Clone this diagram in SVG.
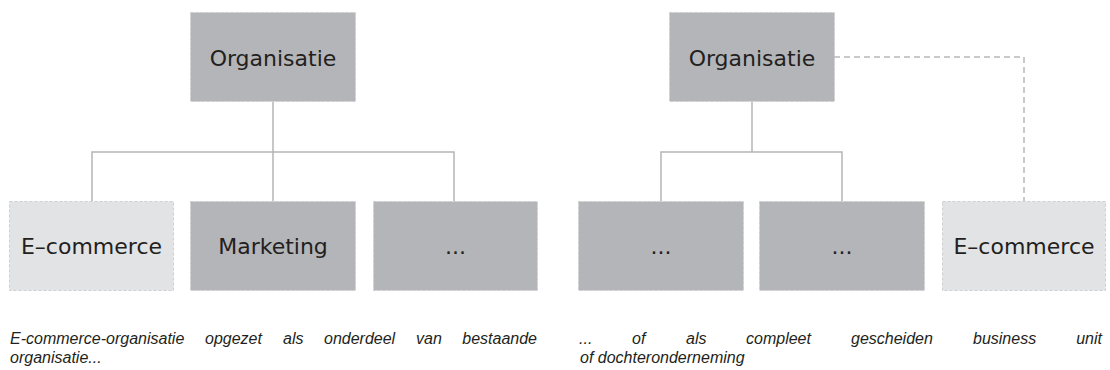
<svg xmlns="http://www.w3.org/2000/svg" width="1110" height="370" viewBox="0 0 1110 370">
<style>
.box{stroke:#cfcfd1;stroke-width:1;stroke-dasharray:3 2}
.dark{fill:#b4b5b8}
.light{fill:#e2e3e5}
.lbl{font-family:"DejaVu Sans",sans-serif;font-size:22px;fill:#231f20;text-anchor:middle}
.cap{font-family:"Liberation Sans",Arial,sans-serif;font-style:italic;font-size:16px;fill:#231f20}
.ln{fill:none;stroke:#b5b5b7;stroke-width:1.5}
.dl{fill:none;stroke:#b8b8ba;stroke-width:1.5;stroke-dasharray:6 4}
</style>
<rect width="1110" height="370" fill="#ffffff"/>
<g id="connectors">
<path class="ln" d="M273 102V201M92 201V152H454V201"/>
<path class="ln" d="M752 102V152M661 201V152H842V201"/>
<path class="dl" d="M834 57H1024V201"/>
</g>
<g id="org-left"><rect class="box dark" x="190.5" y="12.5" width="165" height="89"/><text class="lbl" x="273" y="66">Organisatie</text></g>
<g id="ecom-left"><rect class="box light" x="9.5" y="201.5" width="164" height="89"/><text class="lbl" x="91.5" y="254">E–commerce</text></g>
<g id="marketing"><rect class="box dark" x="190.5" y="201.5" width="165" height="89"/><text class="lbl" x="273" y="254">Marketing</text></g>
<g id="etc-left"><rect class="box dark" x="373.5" y="201.5" width="164" height="89"/><text class="lbl" x="455.5" y="254">...</text></g>
<g id="org-right"><rect class="box dark" x="669.5" y="12.5" width="165" height="89"/><text class="lbl" x="752" y="66">Organisatie</text></g>
<g id="etc-right-1"><rect class="box dark" x="578.5" y="201.5" width="165" height="89"/><text class="lbl" x="661" y="254">...</text></g>
<g id="etc-right-2"><rect class="box dark" x="759.5" y="201.5" width="165" height="89"/><text class="lbl" x="842" y="254">...</text></g>
<g id="ecom-right"><rect class="box light" x="942.5" y="201.5" width="163" height="89"/><text class="lbl" x="1024" y="254">E–commerce</text></g>
<g id="captions">
<text class="cap" y="344"><tspan x="10">E-commerce-organisatie</tspan><tspan x="205">opgezet</tspan><tspan x="283">als</tspan><tspan x="324">onderdeel</tspan><tspan x="416">van</tspan><tspan x="537" text-anchor="end">bestaande</tspan></text>
<text class="cap" x="10" y="363">organisatie...</text>
<text class="cap" y="344"><tspan x="579">...</tspan><tspan x="632">of</tspan><tspan x="686">als</tspan><tspan x="746">compleet</tspan><tspan x="851">gescheiden</tspan><tspan x="973">business</tspan><tspan x="1102" text-anchor="end">unit</tspan></text>
<text class="cap" x="580" y="363">of dochteronderneming</text>
</g>
</svg>
